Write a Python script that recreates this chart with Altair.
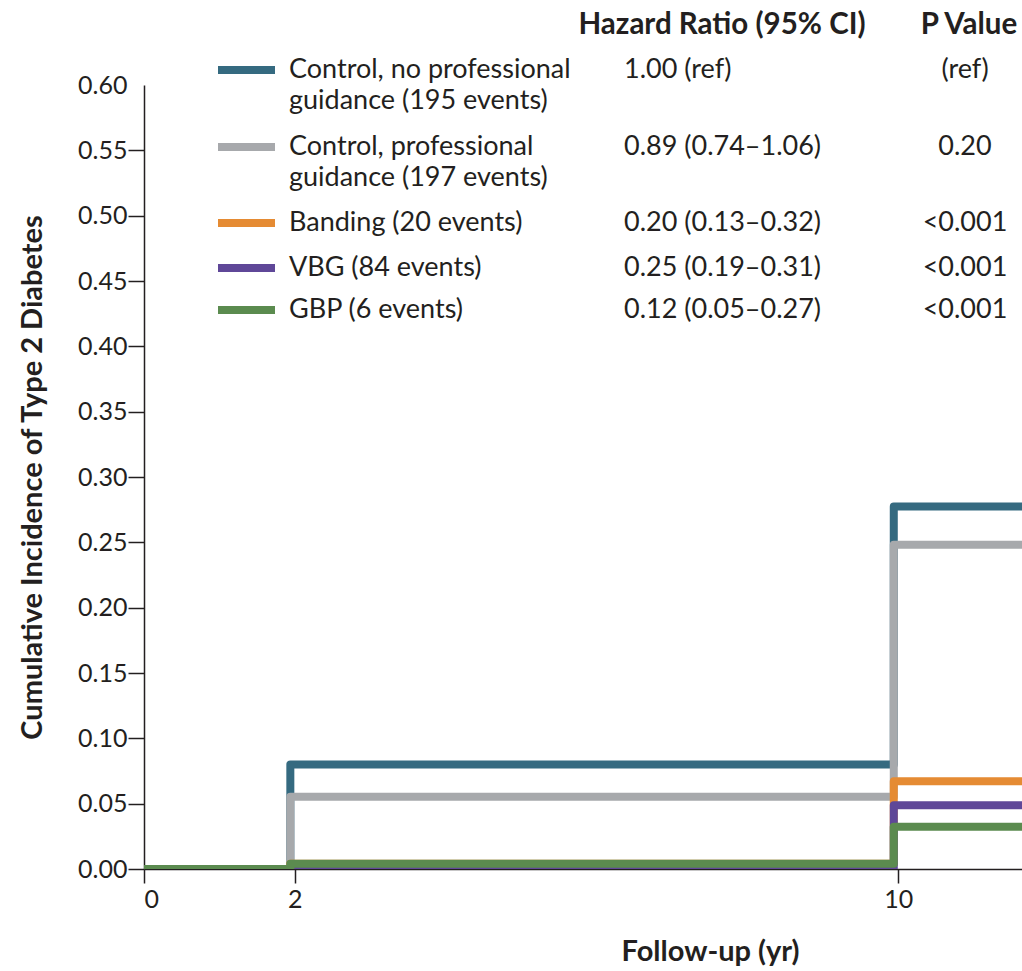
import altair as alt
import pandas as pd

# ---- data ----
groups = ["Control, no professional guidance", "Control, professional guidance",
          "Banding", "VBG", "GBP"]
colors = ["#356a80", "#a7a9ac", "#e58b33", "#5f4798", "#5b8b4f"]
step_times = [0.0, 1.94, 9.94, 12.0]
ctrl_no = [0.0, 0.080, 0.2775, 0.2775]
ctrl_prof = [0.0, 0.0553, 0.2481, 0.2481]
banding = [0.0, 0.004, 0.0672, 0.0672]
vbg = [0.0, 0.0, 0.0487, 0.0487]
gbp = [0.0, 0.004, 0.0324, 0.0324]
series = [ctrl_no, ctrl_prof, banding, vbg, gbp]

legend_labels = ["Control, no professional\nguidance (195 events)",
                 "Control, professional\nguidance (197 events)",
                 "Banding (20 events)", "VBG (84 events)", "GBP (6 events)"]
hr_labels = ["1.00 (ref)", "0.89 (0.74\u20131.06)", "0.20 (0.13\u20130.32)",
             "0.25 (0.19\u20130.31)", "0.12 (0.05\u20130.27)"]
p_labels = ["(ref)", "0.20", "<0.001", "<0.001", "<0.001"]
headers = ["Hazard Ratio (95% CI)", "P Value"]
x_ticks = [0, 2, 10]
y_ticks = [round(0.05 * i, 2) for i in range(13)]

# ---- layout (pixels, style only) ----
W, H = 878, 784
FONT = "Lato"
row_base = [-7, 70, 146, 191, 233]      # text baselines relative to plot top
swatch_off = -8

rows = []
for g, ts in zip(groups, series):
    for t, v in zip(step_times, ts):
        rows.append({"group": g, "t": t, "v": v})
df = pd.DataFrame(rows)

color_scale = alt.Scale(domain=groups, range=colors)
x_enc = alt.X("t:Q", scale=alt.Scale(domain=[0, 11.64], nice=False, zero=True),
              axis=alt.Axis(values=x_ticks, format="d", title="Follow-up (yr)",
                            grid=False, tickSize=14, labelPadding=4,
                            titleX=566, titleY=91, titleBaseline="alphabetic",
                            titleAlign="center", titleAnchor="start"))
y_enc = alt.Y("v:Q", scale=alt.Scale(domain=[0, 0.6], nice=False),
              axis=alt.Axis(values=y_ticks, format=".2f",
                            title="Cumulative Incidence of Type 2 Diabetes",
                            grid=False, tickSize=16, labelPadding=1,
                            tickOpacity=alt.condition("datum.value >= 0.599",
                                                      alt.value(0), alt.value(1)),
                            titleX=-103, titleBaseline="alphabetic"))

layers = []
for i, g in enumerate(groups):
    layers.append(
        alt.Chart(df).transform_filter(alt.datum.group == g)
        .mark_line(interpolate="step-after", strokeWidth=8, strokeJoin="round",
                   clip=True)
        .encode(
            x=x_enc if i == 0 else alt.X("t:Q"),
            y=y_enc if i == 0 else alt.Y("v:Q"),
            color=alt.Color("group:N", scale=color_scale, legend=None),
        )
    )

leg = pd.DataFrame({
    "group": groups,
    "label": legend_labels,
    "hr": hr_labels,
    "p": p_labels,
})

legend_layers = []
for i in range(len(groups)):
    r = leg.iloc[[i]]
    yb = row_base[i]
    legend_layers.append(
        alt.Chart(r).mark_rule(strokeWidth=8).encode(
            x=alt.value(74), x2=alt.value(131), y=alt.value(yb + swatch_off),
            color=alt.Color("group:N", scale=color_scale, legend=None)))
    legend_layers.append(
        alt.Chart(r).mark_text(align="left", baseline="alphabetic", font=FONT,
                               fontSize=27, lineBreak="\n", lineHeight=31,
                               color="#231f20").encode(
            x=alt.value(145), y=alt.value(yb), text="label:N"))
    legend_layers.append(
        alt.Chart(r).mark_text(align="left", baseline="alphabetic", font=FONT,
                               fontSize=27, color="#231f20").encode(
            x=alt.value(480), y=alt.value(yb), text="hr:N"))
    legend_layers.append(
        alt.Chart(r).mark_text(align="center", baseline="alphabetic", font=FONT,
                               fontSize=27, color="#231f20").encode(
            x=alt.value(821), y=alt.value(yb), text="p:N"))

hdr_x = [578, 825]
for h, hx in zip(headers, hdr_x):
    legend_layers.append(
        alt.Chart(pd.DataFrame({"h": [h]})).mark_text(
            align="center", baseline="alphabetic", font=FONT, fontSize=29.5,
            fontWeight="bold", color="#231f20").encode(
            x=alt.value(hx), y=alt.value(-51), text="h:N"))

chart = alt.layer(*layers, *legend_layers).properties(
    width=W, height=H,
    autosize=alt.AutoSizeParams(type="none"),
    padding={"left": 144, "top": 85, "right": 0, "bottom": 102},
).configure_view(stroke=None).configure_axis(
    domainColor="#231f20", domainWidth=1.5, tickColor="#231f20", tickWidth=1.5,
    labelFont=FONT, labelFontSize=25, labelColor="#231f20",
    titleFont=FONT, titleFontSize=29, titleFontWeight="bold", titleColor="#231f20",
)

chart.save("out.html", embed_options={"renderer": "svg", "actions": False})
